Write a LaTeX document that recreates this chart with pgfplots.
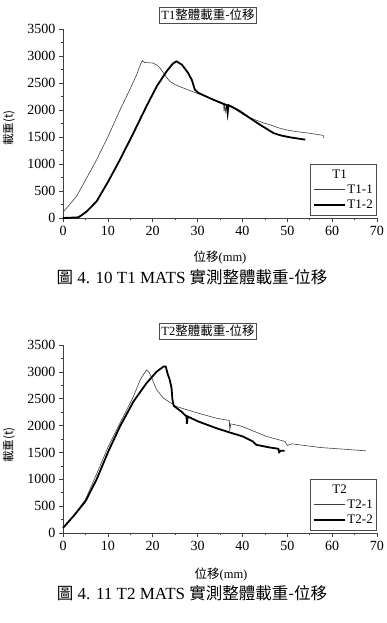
\documentclass[border=0pt]{standalone}
\usepackage{pgfplots}
\pgfplotsset{compat=1.18}
\usepackage{fontspec}
\setmainfont{Liberation Serif}
\newfontfamily\cjk{Noto Sans CJK TC}

\pgfplotsset{
  mats/.style={
    anchor=south west, scale only axis, width=314pt, height=189pt,
    xmin=0, xmax=70, ymin=0, ymax=3500,
    axis x line=bottom, axis y line=left, axis line style={-, black!75, line width=0.6pt},
    tick align=outside, tick style={black!75, line width=0.6pt},
    major tick length=4pt, minor tick length=2pt,
    xtick={0,10,...,70}, minor xtick={5,15,...,65},
    ytick={0,500,...,3500}, minor ytick={250,750,...,3250},
    tick label style={font=\fontsize{14}{14}\selectfont},
    xticklabel style={yshift=-1pt},
    /pgf/number format/assume math mode=true,
    /pgf/number format/1000 sep={},
    scaled ticks=false,
    clip=false,
    legend style={at={(1,0)}, anchor=south east, yshift=3pt, draw=black!70, line width=0.5pt,
      font=\fontsize{13}{15}\selectfont, inner xsep=2pt, inner ysep=3pt, row sep=1pt, fill=white},
    legend cell align=left,
    legend image code/.code={\draw[#1] (0pt,0pt) -- (31pt,0pt);},
  },
  thinl/.style={black!75, line width=0.6pt},
  thickl/.style={black, line width=1.8pt},
}

\pgfplotstableread{
x y
0 111
1.5 250
3 400
5 700
7.5 1080
10 1500
12.7 2000
14.9 2380
16.4 2650
17.3 2850
17.7 2914
18.2 2880
20 2870
21 2830
21.6 2780
22.7 2650
23.8 2531
25 2470
26.1 2430
28 2370
30.2 2300
32 2250
34.2 2160
35.8 2100
35.9 1980
36.0 2090
36.2 1970
36.4 2085
37.2 2060
38 2037
40.2 1914
42.5 1830
44.7 1760
46 1730
48 1670
49.9 1630
52 1600
55 1570
58 1530
58.1 1480
}\Tonea

\pgfplotstableread{
x y
0 0
3.4 12
4.3 60
5.3 123
7.5 309
10.1 679
12.7 1080
15.7 1574
18.6 2068
20.9 2438
23.1 2716
24.5 2860
25.3 2901
26.5 2840
27.9 2685
28.3 2620
28.7 2562
29.4 2377
30.2 2315
33.5 2191
35.7 2117
36.5 2090
36.7 1944
36.9 2090
37.2 2080
39.5 1975
41.5 1860
43.9 1728
46.9 1574
48.5 1530
50.6 1494
52.5 1470
54 1451
}\Tonetwo

\pgfplotstableread{
x y
0 105
2.5 340
5 620
7.5 1100
10.1 1611
12.7 2045
15.7 2540
17.2 2850
18.6 3036
19.2 2990
19.8 2881
20.9 2664
22.4 2509
25.3 2354
30.2 2230
34.2 2137
37.1 2094
37.15 1902
37.4 2032
39.5 1995
40.9 1951
45.4 1797
49.5 1704
50 1630
51 1660
57.3 1592
60.3 1574
67.5 1530
}\Ttwoone

\pgfplotstableread{
x y
0 93
2.5 330
5 589
7.5 1000
10.1 1518
12.7 1983
15.7 2447
18.6 2788
20.9 3005
22.4 3098
22.9 3098
23.3 2974
23.8 2850
24.2 2695
24.4 2478
24.7 2366
26.4 2261
27.55 2168
27.6 2032
27.8 2168
30.2 2075
34.2 1951
37.2 1871
40.1 1797
42.3 1704
43.1 1642
46.1 1592
48 1568
48.2 1506
48.5 1530
49.4 1530
}\Ttwotwo

\begin{document}
\begin{tikzpicture}
\path[use as bounding box] (0pt,0pt) rectangle (387pt,-623pt);

% ---------- Chart 1 ----------
\node[draw=black!70, line width=0.5pt, inner sep=2pt, font=\fontsize{12.5}{13}\selectfont] at (208pt,-15pt) {T1{\cjk 整體載重-位移}};
\begin{axis}[mats, at={(63pt,-218pt)}]
\addlegendimage{empty legend}\addlegendentry{\hspace*{-15pt}T1}
\addplot[thinl] table[x=x,y=y] {\Tonea};\addlegendentry{T1-1}
\addplot[thickl] table[x=x,y=y] {\Tonetwo};\addlegendentry{T1-2}
\end{axis}
\node[rotate=90, font=\cjk\fontsize{11.5}{12}\selectfont] at (9pt,-128pt) {載重(t)};
\node[font=\fontsize{12.5}{13}\selectfont] at (220pt,-258pt) {{\cjk 位移}(mm)};
\node[font=\fontsize{17}{18}\selectfont] at (192pt,-277pt) {{\cjk\fontsize{16.5}{18}\selectfont 圖} 4. 10 T1 MATS {\cjk\fontsize{16.5}{18}\selectfont 實測整體載重-位移}};

% ---------- Chart 2 ----------
\node[draw=black!70, line width=0.5pt, inner sep=2pt, font=\fontsize{12.5}{13}\selectfont] at (208pt,-331pt) {T2{\cjk 整體載重-位移}};
\begin{axis}[mats, at={(63pt,-533pt)}, height=188pt]
\addlegendimage{empty legend}\addlegendentry{\hspace*{-15pt}T2}
\addplot[thinl] table[x=x,y=y] {\Ttwoone};\addlegendentry{T2-1}
\addplot[thickl] table[x=x,y=y] {\Ttwotwo};\addlegendentry{T2-2}
\end{axis}
\node[rotate=90, font=\cjk\fontsize{11.5}{12}\selectfont] at (9pt,-445pt) {載重(t)};
\node[font=\fontsize{12.5}{13}\selectfont] at (221pt,-575pt) {{\cjk 位移}(mm)};
\node[font=\fontsize{17}{18}\selectfont] at (192pt,-593pt) {{\cjk\fontsize{16.5}{18}\selectfont 圖} 4. 11 T2 MATS {\cjk\fontsize{16.5}{18}\selectfont 實測整體載重-位移}};
\end{tikzpicture}
\end{document}
